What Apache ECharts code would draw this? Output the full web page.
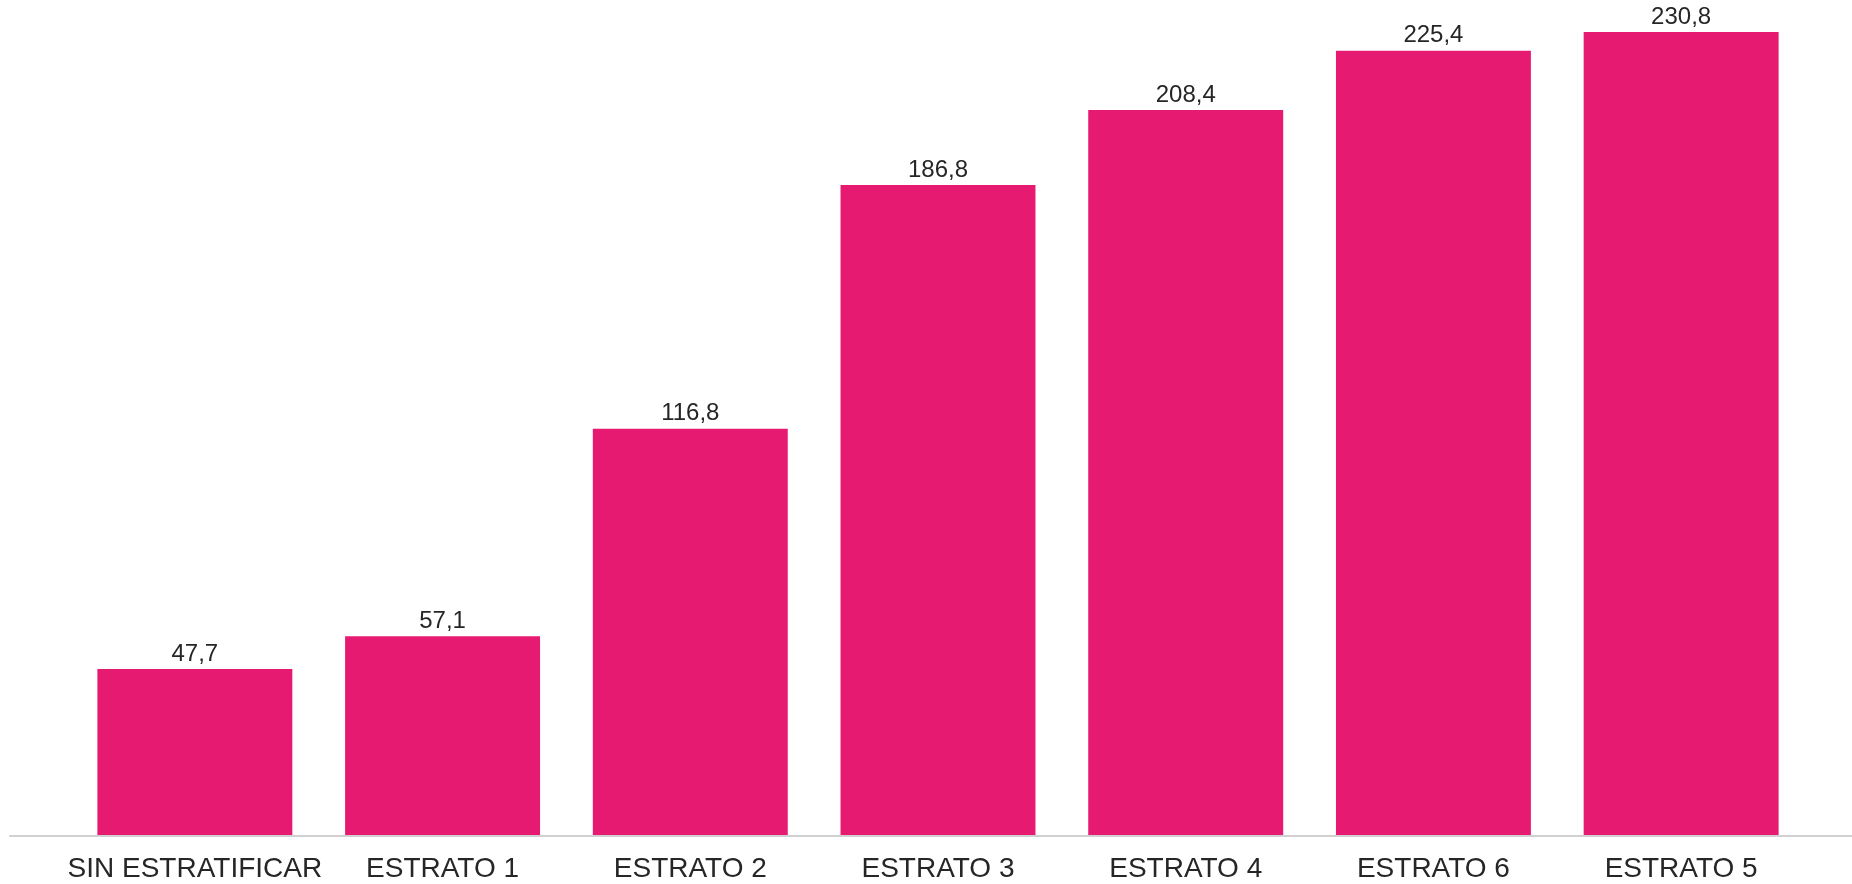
<!DOCTYPE html>
<html>
<head>
<meta charset="utf-8">
<script src="https://cdn.jsdelivr.net/npm/echarts@6/dist/echarts.min.js"></script>
<style>
html,body{margin:0;padding:0;background:#fff;}
#chart{width:1852px;height:884px;}
</style>
</head>
<body>
<div id="chart"></div>
<script>
const categories = ['SIN ESTRATIFICAR', 'ESTRATO 1', 'ESTRATO 2', 'ESTRATO 3', 'ESTRATO 4', 'ESTRATO 6', 'ESTRATO 5'];
const values = [47.7, 57.1, 116.8, 186.8, 208.4, 225.4, 230.8];

const chart = echarts.init(document.getElementById('chart'), null, {renderer: 'canvas'});
chart.setOption({
  backgroundColor: '#ffffff',
  animation: false,
  grid: [
    {left: 71, right: 47, top: 0, bottom: 49, containLabel: false},
    {left: 10, right: 0, top: 0, bottom: 48, containLabel: false}
  ],
  xAxis: [
    {
      type: 'category',
      gridIndex: 0,
      data: categories,
      axisLine: {show: false},
      axisTick: {show: false},
      axisLabel: {
        color: '#262626',
        fontSize: 28,
        fontFamily: 'Liberation Sans, Arial, sans-serif',
        margin: 20,
        interval: 0
      }
    },
    {
      type: 'value',
      gridIndex: 1,
      min: 0, max: 1,
      axisLine: {show: true, onZero: false, lineStyle: {color: '#D0D0D0', width: 2}},
      axisTick: {show: false},
      axisLabel: {show: false},
      splitLine: {show: false}
    }
  ],
  yAxis: [
    {
      type: 'value',
      gridIndex: 0,
      min: 0,
      max: 240,
      show: false,
      splitLine: {show: false}
    },
    {
      type: 'value',
      gridIndex: 1,
      show: false,
      splitLine: {show: false}
    }
  ],
  series: [{
    type: 'bar',
    xAxisIndex: 0,
    yAxisIndex: 0,
    data: values,
    barCategoryGap: '21.3%',
    itemStyle: {color: '#E71A72'},
    z: 3,
    label: {
      show: true,
      position: 'top',
      distance: 3,
      color: '#262626',
      fontSize: 24,
      fontFamily: 'Liberation Sans, Arial, sans-serif',
      formatter: p => p.value.toFixed(1).replace('.', ',')
    }
  }]
});
</script>
</body>
</html>
